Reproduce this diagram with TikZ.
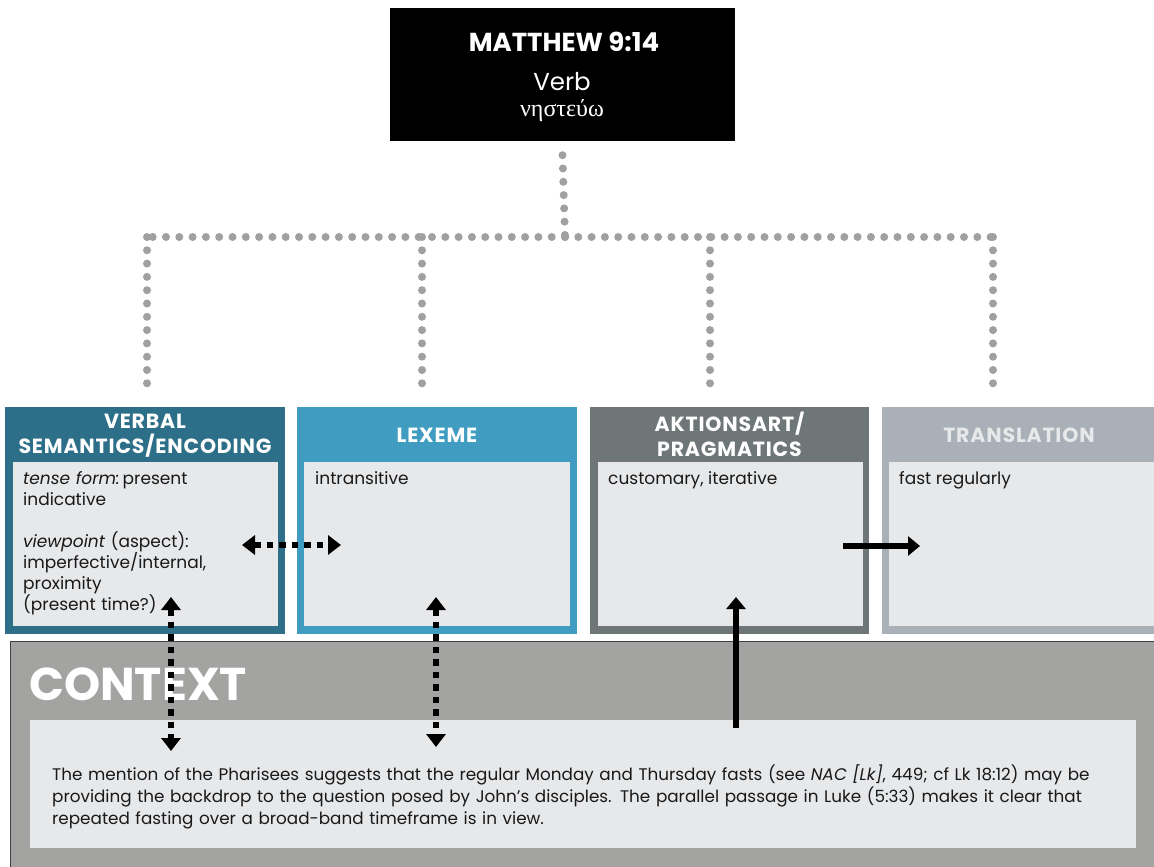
\documentclass[tikz,border=0pt]{standalone}
\usepackage{fontspec}
\setmainfont{Poppins}
\newfontfamily\greekfont{Liberation Serif}
\usetikzlibrary{arrows.meta,calc}

\definecolor{tealhead}{HTML}{2D6F88}
\definecolor{bluehead}{HTML}{409CC1}
\definecolor{grayhead}{HTML}{6E7677}
\definecolor{lighthead}{HTML}{A9B0B7}
\definecolor{panel}{HTML}{E7E8EA}
\definecolor{ctxgray}{HTML}{A3A3A2}
\definecolor{dotgray}{HTML}{A0A0A0}

\tikzset{
  outerbox/.style={anchor=north west, inner sep=0pt, minimum height=227pt},
  panelbox/.style={anchor=north west, inner sep=0pt, fill=panel, minimum height=164pt},
  headtext/.style={text=white, font=\fontsize{20.5}{25}\selectfont\bfseries\addfontfeature{LetterSpace=4}, align=center, inner sep=0pt},
  bodytext/.style={anchor=north west, inner sep=0pt, align=left, font=\fontsize{17}{21}\selectfont, text=black!90},
  dotline/.style={draw=dotgray, line width=8pt, line cap=round, dash pattern=on 0pt off 13.3pt},
  dotarrow/.style={line width=6.5pt, dash pattern=on 6.5pt off 6pt, {Triangle[length=13pt,width=19pt]}-{Triangle[length=13pt,width=19pt]}},
  solidarrow/.style={line width=6.5pt, -{Triangle[length=12pt,width=19pt]}},
}

\begin{document}
\begin{tikzpicture}[x=1pt,y=-1pt]
\useasboundingbox (0,0) rectangle (1154,867);
\fill[white] (0,0) rectangle (1154,867);

% title block
\node[fill=black, inner sep=0pt, minimum width=345pt, minimum height=133pt] (top) at (562.5,74.5) {};
\node[text=white, inner sep=0pt, font=\fontsize{26}{30}\selectfont\bfseries] (ttl) at (564,42) {MATTHEW 9:14};
\node[text=white, inner sep=0pt, font=\fontsize{24.5}{28}\selectfont] (pos) at (562,82) {Verb};
\node[text=white, inner sep=0pt, font=\greekfont\fontsize{24}{28}\selectfont] (lem) at (562,111) {νηστεύω};

% four category boxes
\node[outerbox, fill=tealhead, minimum width=280pt] (vs) at (5,407) {};
\node[panelbox, minimum width=265pt] (vsp) at (13,462) {};
\node[headtext] (vsh) at (145,436) {VERBAL\\SEMANTICS/ENCODING};

\node[outerbox, fill=bluehead, minimum width=280pt] (lx) at (297,407) {};
\node[panelbox, minimum width=266pt] (lxp) at (304,462) {};
\node[headtext] (lxh) at (437,435) {LEXEME};

\node[outerbox, fill=grayhead, minimum width=279pt] (ak) at (590,407) {};
\node[panelbox, minimum width=265pt] (akp) at (598,462) {};
\node[headtext] (akh) at (729.5,434) {AKTIONSART/\\PRAGMATICS};

\node[outerbox, fill=lighthead, minimum width=280pt] (tr) at (882,407) {};
\node[panelbox, minimum width=272pt] (trp) at (889,462) {};
\node[headtext, text=panel] (trh) at (1019,435) {TRANSLATION};

% panel contents
\node[bodytext, text width=250pt] (vst) at (23,471) {\textit{tense form:}\,present\\indicative\\[21pt]\textit{viewpoint} (aspect):\\imperfective/internal,\\proximity\\(present time?)};
\node[bodytext] (lxt) at (315,471) {intransitive};
\node[bodytext] (akt) at (608,471) {customary, iterative};
\node[bodytext] (trt) at (899,471) {fast regularly};

% context panel
\node[anchor=north west, inner sep=0pt, fill=ctxgray, draw=black!75, line width=1pt, minimum width=1160pt, minimum height=240pt] (ctx) at (10,641) {};
\node[anchor=west, inner sep=0pt, text=white, font=\fontsize{46}{50}\selectfont\bfseries] (ctxh) at (29,684) {CONTEXT};
\node[anchor=north west, inner sep=0pt, fill=panel, minimum width=1106pt, minimum height=128pt] (ctxp) at (30,720) {};
\node[bodytext, text width=1090pt, font=\fontsize{16.8}{22}\selectfont] (ctxt) at (52,764) {The mention of the Pharisees suggests that the regular Monday and Thursday fasts (see \textit{NAC [Lk]}, 449; cf Lk 18:12) may be\\providing the backdrop to the question posed by John’s disciples. The parallel passage in Luke (5:33) makes it clear that\\repeated fasting over a broad-band timeframe is in view.};

% dotted tree connectors
\coordinate (hub) at (565,237);
\coordinate (d1) at (147,407);
\coordinate (d2) at (422,407);
\coordinate (d3) at (710,407);
\coordinate (d4) at (993,407);
\draw[dotline] (top.south) ++(0,14) -- (hub);
\draw[dotline] (hub) -- (d1 |- hub);
\draw[dotline] (hub) -- (d4 |- hub);
\draw[dotline, shorten >=11pt] (d1 |- hub) -- (d1);
\draw[dotline, shorten >=11pt] (d2 |- hub) -- (d2);
\draw[dotline, shorten >=11pt] (d3 |- hub) -- (d3);
\draw[dotline, shorten >=11pt] (d4 |- hub) -- (d4);

% relation arrows
\coordinate (h1) at (242,545);
\coordinate (h2) at (341,545);
\draw[dotarrow] (h1) -- (h2);
\coordinate (s1) at (843,546);
\coordinate (s2) at (920,546);
\draw[solidarrow] (s1) -- (s2);
\coordinate (v1a) at (171,597);
\coordinate (v1b) at (171,751);
\draw[dotarrow] (v1a) -- (v1b);
\coordinate (v2a) at (436,597);
\coordinate (v2b) at (436,747);
\draw[dotarrow] (v2a) -- (v2b);
\coordinate (v3a) at (736,728);
\coordinate (v3b) at (736,597);
\draw[solidarrow] (v3a) -- (v3b);
\end{tikzpicture}
\end{document}
